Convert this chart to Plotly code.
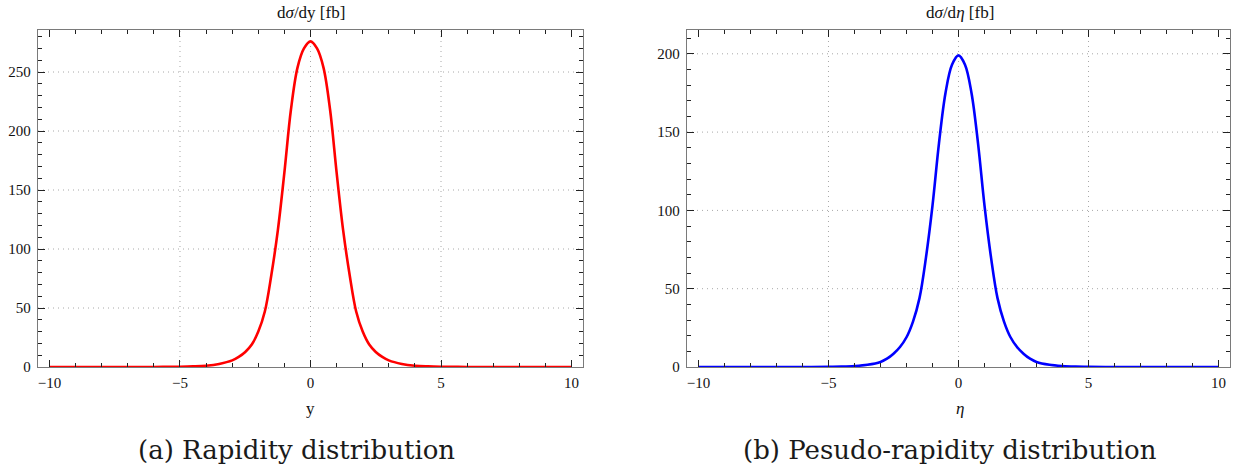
import plotly.graph_objects as go

# ---------------- data ----------------
x_vals = [-10, -9, -8, -7, -6, -5, -4.5, -4, -3.5, -3, -2.75, -2.5, -2.25, -2,
          -1.75, -1.5, -1.25, -1, -0.75, -0.5, -0.25, 0, 0.25, 0.5, 0.75, 1,
          1.25, 1.5, 1.75, 2, 2.25, 2.5, 2.75, 3, 3.5, 4, 4.5, 5, 6, 7, 8, 9, 10]

rapidity = [0, 0, 0, 0, 0.05, 0.2, 0.5, 1.1, 2.6, 5.6, 8.5, 12.7, 19, 30,
            47, 78, 116, 165, 218, 253.5, 270, 276, 270, 253.5, 218, 165,
            116, 78, 47, 30, 19, 12.7, 8.5, 5.6, 2.6, 1.1, 0.5, 0.2, 0.05, 0, 0, 0, 0]

pseudo_rapidity = [0, 0, 0, 0, 0.02, 0.1, 0.25, 0.6, 1.4, 3.2, 5.3, 8.5, 12.8, 19,
                   29, 44, 70, 103, 143, 175, 193, 199, 193, 175, 143, 103,
                   70, 44, 29, 19, 12.8, 8.5, 5.3, 3.2, 1.4, 0.6, 0.25, 0.1, 0.02, 0, 0, 0, 0]

x_ticks = [-10, -5, 0, 5, 10]
y_ticks_a = [0, 50, 100, 150, 200, 250]
y_ticks_b = [0, 50, 100, 150, 200]
grid_x = [-5, 0, 5]
grid_y_a = [50, 100, 150, 200, 250]
grid_y_b = [50, 100, 150, 200]

titles = ["d<i>σ</i>/dy [fb]", "d<i>σ</i>/d<i>η</i> [fb]"]
xlabels = ["y", "<i>η</i>"]
captions = ["(a) Rapidity distribution", "(b) Pesudo-rapidity distribution"]

# ---------------- figure ----------------
W, H = 1246, 473
fig = go.Figure()

fig.add_trace(go.Scatter(x=x_vals, y=rapidity, mode="lines",
                         line=dict(color="#FF0000", width=2.6, shape="spline", smoothing=1.0),
                         xaxis="x", yaxis="y", showlegend=False, hoverinfo="skip"))
fig.add_trace(go.Scatter(x=x_vals, y=pseudo_rapidity, mode="lines",
                         line=dict(color="#0000FF", width=2.6, shape="spline", smoothing=1.0),
                         xaxis="x2", yaxis="y2", showlegend=False, hoverinfo="skip"))

TICKFONT = dict(family="Liberation Serif", size=15, color="#111")
FRAME = "#7a7a7a"

def xaxis_cfg(dom, anchor):
    return dict(domain=dom, anchor=anchor, range=[-10.44, 10.44],
                tickvals=x_ticks, ticks="inside", ticklen=7, tickwidth=1, tickcolor="#222",
                minor=dict(dtick=1, ticks="inside", ticklen=4, tickwidth=1, tickcolor="#222", showgrid=False),
                showline=True, linecolor=FRAME, linewidth=1.3, mirror="allticks",
                showgrid=False, zeroline=False, tickfont=TICKFONT, ticklabelstandoff=2,
                automargin=False, fixedrange=True)

def yaxis_cfg(dom, anchor, rng, vals):
    return dict(domain=dom, anchor=anchor, range=rng,
                tickvals=vals, ticks="inside", ticklen=7, tickwidth=1, tickcolor="#222",
                minor=dict(dtick=10, ticks="inside", ticklen=4, tickwidth=1, tickcolor="#222", showgrid=False),
                showline=True, linecolor=FRAME, linewidth=1.3, mirror="allticks",
                showgrid=False, zeroline=False, tickfont=TICKFONT, ticklabelstandoff=3,
                automargin=False, fixedrange=True)

ydom = [1 - 367 / H, 1 - 30 / H]
fig.update_layout(
    width=W, height=H, margin=dict(l=0, r=0, t=0, b=0, autoexpand=False),
    paper_bgcolor="white", plot_bgcolor="white",
    xaxis=xaxis_cfg([38 / W, 583 / W], "y"),
    yaxis=yaxis_cfg(ydom, "x", [0, 285.6], y_ticks_a),
    xaxis2=xaxis_cfg([687 / W, 1230 / W], "y2"),
    yaxis2=yaxis_cfg(ydom, "x2", [0, 215.2], y_ticks_b),
)

GRID = dict(color="#a8a8a8", width=1, dash="1px,4px")
shapes = []
for xr, yr, gy in (("x", "y", grid_y_a), ("x2", "y2", grid_y_b)):
    for gx in grid_x:
        shapes.append(dict(type="line", xref=xr, yref=yr + " domain", x0=gx, x1=gx, y0=0, y1=1,
                           line=GRID, layer="below"))
    for g in gy:
        shapes.append(dict(type="line", xref=xr + " domain", yref=yr, x0=0, x1=1, y0=g, y1=g,
                           line=GRID, layer="below"))
fig.update_layout(shapes=shapes)

centers = [310.5 / W, 960 / W]
cap_centers = [296.5 / W, 949.5 / W]
ann = []
for i in range(2):
    ann.append(dict(text=titles[i], x=centers[i], y=1 - 13 / H, xref="paper", yref="paper",
                    xanchor="center", yanchor="middle", showarrow=False,
                    font=dict(family="Liberation Serif", size=17, color="#111")))
    ann.append(dict(text=xlabels[i], x=centers[i], y=1 - 408 / H, xref="paper", yref="paper",
                    xanchor="center", yanchor="middle", showarrow=False,
                    font=dict(family="Liberation Serif", size=17, color="#111")))
    ann.append(dict(text=captions[i], x=cap_centers[i], y=1 - 450 / H, xref="paper", yref="paper",
                    xanchor="center", yanchor="middle", showarrow=False,
                    font=dict(family="DejaVu Serif", size=26, color="#1a1a1a")))
fig.update_layout(annotations=ann)

fig.write_html("out.html")
